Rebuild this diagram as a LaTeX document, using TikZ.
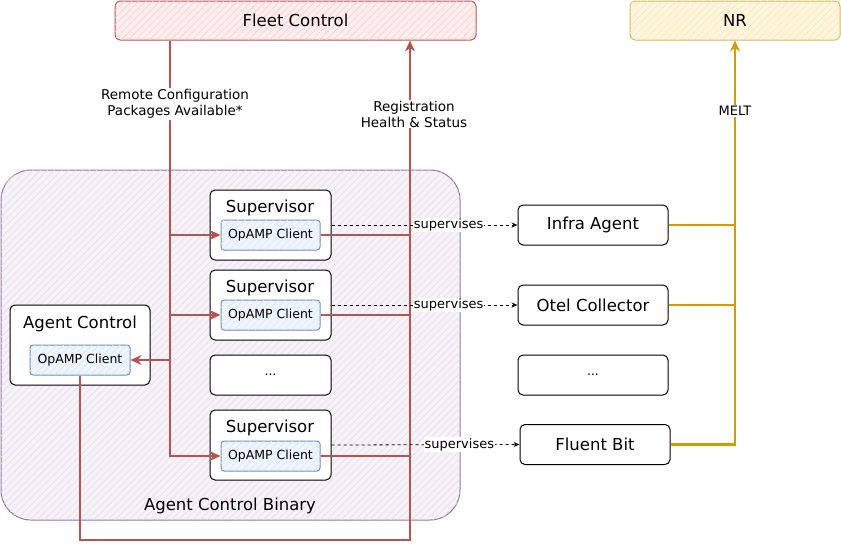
\documentclass[tikz,border=0pt]{standalone}
\usepackage{fontspec}
\setmainfont{DejaVu Sans}
\usetikzlibrary{arrows.meta,patterns.meta}
\definecolor{redS}{HTML}{B85450}
\definecolor{redF}{HTML}{F8CECC}
\definecolor{purS}{HTML}{9673A6}
\definecolor{purF}{HTML}{E1D5E7}
\definecolor{orS}{HTML}{D79B00}
\definecolor{yelS}{HTML}{D6B656}
\definecolor{yelF}{HTML}{FFE6A8}
\definecolor{bluS}{HTML}{6C8EBF}
\definecolor{bluF}{HTML}{DAE8FC}
\tikzset{
  big/.style={font=\fontsize{16.5}{19}\selectfont},
  mid/.style={font=\fontsize{13.5}{16}\selectfont},
  small/.style={font=\fontsize{12.5}{14}\selectfont},
  tiny/.style={font=\fontsize{13}{15}\selectfont},
  hatch/.style={postaction={pattern={Lines[angle=45,distance=5pt,line width=0.6pt]},pattern color=#1}},
  fleetbox/.style={draw=redS,line width=1pt,rounded corners=5pt,fill=redF!35,hatch=redF,minimum width=361pt,minimum height=39pt,inner sep=0pt,big},
  nrbox/.style={draw=yelS,line width=1pt,rounded corners=5pt,fill=yelF!35,hatch=yelF,minimum width=210pt,minimum height=39pt,inner sep=0pt,big},
  binbox/.style={draw=purS,line width=1pt,rounded corners=30pt,fill=purF!30,hatch=purF!80,minimum width=459pt,minimum height=350pt,inner sep=0pt},
  supbox/.style={draw=black,line width=1pt,rounded corners=5pt,fill=white,minimum width=121pt,minimum height=70pt,inner sep=0pt},
  dotbox/.style={draw=black,line width=1pt,rounded corners=5pt,fill=white,minimum width=121pt,minimum height=40pt,inner sep=0pt,small},
  clientbox/.style={draw=bluS,line width=1pt,rounded corners=3pt,fill=bluF!45,hatch=bluF,minimum width=99pt,minimum height=30pt,inner sep=0pt,small},
  agentbox/.style={draw=black,line width=1pt,rounded corners=5pt,fill=white,minimum width=150pt,minimum height=40pt,inner sep=0pt,big},
  acbox/.style={draw=black,line width=1pt,rounded corners=5pt,fill=white,minimum width=140pt,minimum height=80pt,inner sep=0pt},
  txt/.style={inner sep=1pt},
  lbl/.style={fill=white,inner sep=1pt,align=center,mid},
  redline/.style={draw=redS,line width=2.5pt},
  redarrow/.style={redline,-{Stealth[length=11pt,width=10pt]}},
  orline/.style={draw=orS,line width=2.5pt},
  orarrow/.style={orline,-{Stealth[length=11pt,width=10pt]}},
  supline/.style={draw=black,line width=0.8pt,dashed,-{Stealth[length=6pt,width=5pt,open]}},
}
\begin{document}
\begin{tikzpicture}[x=1pt,y=-1pt]
\useasboundingbox (0,0) rectangle (841,550);
% top boxes
\node[fleetbox] (fleet) at (295.5,20.5) {Fleet Control};
\node[nrbox] (nr) at (735,20.5) {NR};
% container
\node[binbox] (bin) at (230.5,345) {};
\node[txt,big] (binlbl) at (230,506) {Agent Control Binary};
% supervisors
\node[supbox] (s1) at (270.5,225) {};
\node[txt,big] (s1t) at (270,208) {Supervisor};
\node[clientbox] (c1) at (270.5,235) {OpAMP Client};
\node[supbox] (s2) at (270.5,305) {};
\node[txt,big] (s2t) at (270,288) {Supervisor};
\node[clientbox] (c2) at (270.5,315) {OpAMP Client};
\node[dotbox] (d1) at (270.5,375) {...};
\node[supbox] (s3) at (270.5,445) {};
\node[txt,big] (s3t) at (270,428) {Supervisor};
\node[clientbox] (c3) at (270.5,456) {OpAMP Client};
% agent control
\node[acbox] (ac) at (80,345) {};
\node[txt,big] (act) at (80,324) {Agent Control};
\node[clientbox,minimum width=100pt] (aci) at (80,360) {OpAMP Client};
% agents
\node[agentbox] (ia) at (593,225) {Infra Agent};
\node[agentbox] (oc) at (593,305) {Otel Collector};
\node[dotbox,minimum width=150pt] (d2) at (593,375) {...};
\node[agentbox] (fb) at (595,444.5) {Fluent Bit};
% helper coordinates
\coordinate (busL) at (170,456);
\coordinate (busR) at (410,540);
% red: remote configuration
\draw[redarrow] (fleet.south -| busL) -- (busL) -- (c3.west);
\draw[redarrow] (c1.west -| busL) -- (c1.west);
\draw[redarrow] (c2.west -| busL) -- (c2.west);
\draw[redarrow] (aci.east -| busL) -- (aci.east);
\node[lbl] (rcl) at (175,104) {Remote Configuration\\Packages Available*};
% red: registration
\draw[redarrow] (aci.south) |- (busR) -- (fleet.south -| busR);
\draw[redline] (c1.east) -- (c1.east -| busR);
\draw[redline] (c2.east) -- (c2.east -| busR);
\draw[redline] (c3.east) -- (c3.east -| busR);
\node[lbl] (regl) at (414,114) {Registration\\Health \& Status};
% supervises
\draw[supline] (s1.east) -- node[lbl,pos=0.63,tiny] (sv1) {supervises} (ia.west);
\draw[supline] (s2.east) -- node[lbl,pos=0.63,tiny] (sv2) {supervises} (oc.west);
\draw[supline] (s3.east) -- node[lbl,pos=0.68,tiny] (sv3) {supervises} (fb.west);
% MELT
\draw[orarrow] (fb.east) -| (nr.south);
\draw[orline] (ia.east) -- (ia.east -| nr.south);
\draw[orline] (oc.east) -- (oc.east -| nr.south);
\node[lbl,tiny] (melt) at (735,111) {MELT};
\end{tikzpicture}
\end{document}
